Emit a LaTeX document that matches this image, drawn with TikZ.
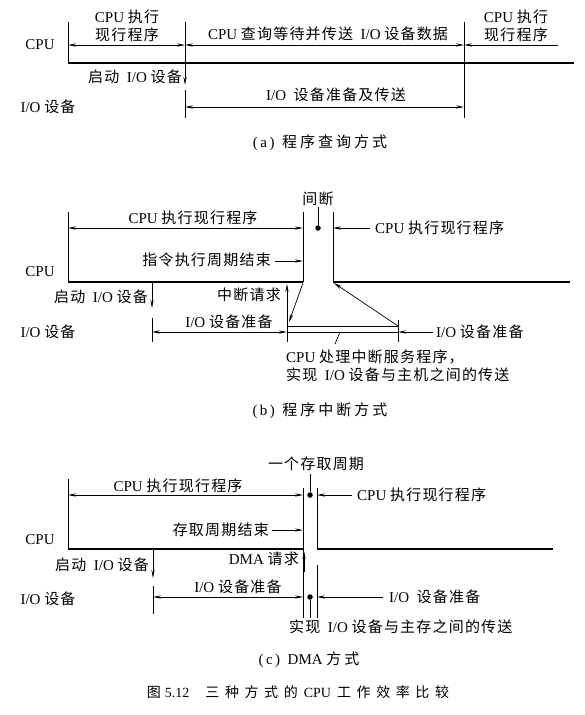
\documentclass[tikz,border=0pt]{standalone}
\usepackage{fontspec}
\setmainfont{Liberation Serif}
\newfontfamily\cjk[LetterSpace=8]{Noto Sans CJK SC}
\newfontfamily\cjkm[LetterSpace=20]{Noto Sans CJK SC}
\newfontfamily\cjkw[LetterSpace=40]{Noto Sans CJK SC}
\newcommand\zh[1]{{\cjk #1}}
\newcommand\zhm[1]{{\cjkm #1}}
\newcommand\zhw[1]{{\cjkw #1}}
\usetikzlibrary{arrows.meta}
\tikzset{
  ln/.style={line width=0.7pt},
  bl/.style={line width=1.4pt},
  ar/.style={ln,-{Stealth[length=8pt,width=3.2pt]}},
  dar/.style={ln,{Stealth[length=8pt,width=3.2pt]}-{Stealth[length=8pt,width=3.2pt]}},
  tx/.style={inner sep=0pt,font=\fontsize{15}{18}\selectfont},
  ctx/.style={inner sep=0pt,font=\fontsize{14}{18}\selectfont},
  dotn/.style={circle,fill,inner sep=0pt,minimum size=5.5pt}
}
\begin{document}
\begin{tikzpicture}[x=1pt,y=-1pt]
\useasboundingbox (0,0) rectangle (585,715);
% ================= (a) =================
\coordinate (a1) at (68,22);
\coordinate (a2) at (68,63);
\coordinate (a3) at (574,63);
\coordinate (b1) at (185,22);
\coordinate (bk) at (185,85);
\coordinate (bk2) at (185,90);
\coordinate (b2) at (185,118);
\coordinate (c1) at (464,22);
\coordinate (c2) at (464,118);
\coordinate (ya) at (0,45);
\coordinate (yb) at (0,107);
\coordinate (arr) at (558,45);
\draw[ln] (a1) -- (a2);
\draw[bl] (a2) -- (a3);
\draw[ln] (b1) -- (b1|-a2);
\draw[ar] (b1|-a2) -- (bk);
\draw[ln] (bk2) -- (b2);
\draw[ln] (c1) -- (c2);
\draw[dar] (a1|-ya) -- (b1|-ya);
\draw[dar] (b1|-ya) -- (c1|-ya);
\draw[ar] (arr) -- (c1|-ya);
\draw[dar] (b1|-yb) -- (c1|-yb);
\node[tx] (acpu) at (40,45) {CPU};
\node[tx] (aio) at (48,107) {I/O \zh{设备}};
\node[tx,align=center] (at1) at (127,26) {CPU \zh{执行}\\\zh{现行程序}};
\node[tx] (at2) at (328,34) {CPU \zh{查询等待并传送}\ \ I/O \zh{设备数据}};
\node[tx,align=center] (at3) at (516,26) {CPU \zh{执行}\\\zh{现行程序}};
\node[tx,anchor=east] (at4) at (182,77) {\zh{启动}\ \ I/O \zh{设备}};
\node[tx] (at5) at (336,95) {I/O\ \ \zh{设备准备及传送}};
\node[tx] (acap) at (320,143) {(\,a\,)\ \ \zhm{程序查询方式}};
% ================= (b) =================
\coordinate (p1) at (68,212);
\coordinate (p2) at (68,282);
\coordinate (p3) at (303,282);
\coordinate (p4) at (303,212);
\coordinate (q1) at (333,212);
\coordinate (q2) at (333,282);
\coordinate (q3) at (570,282);
\coordinate (yc) at (0,228);
\coordinate (g1) at (318,207);
\coordinate (r1) at (370,228);
\coordinate (s1) at (275,261);
\coordinate (t1) at (152,282);
\coordinate (t2) at (152,308);
\coordinate (t3) at (152,318);
\coordinate (t4) at (152,342);
\coordinate (yi) at (0,332);
\coordinate (u1) at (287,342);
\coordinate (u2) at (287,284);
\coordinate (v0) at (303,283);
\coordinate (v1) at (289,322);
\coordinate (w1) at (287,326);
\coordinate (w2) at (398,326);
\coordinate (w4) at (398,320);
\coordinate (w5) at (398,342);
\coordinate (z1) at (334,283);
\coordinate (x1) at (433,332);
\coordinate (l1) at (340,332);
\coordinate (l2) at (335,344);
\draw[ln] (p1) -- (p2);
\draw[bl] (p2) -- (p3);
\draw[ln] (p3) -- (p4);
\draw[ln] (q1) -- (q2);
\draw[bl] (q2) -- (q3);
\draw[dar] (p1|-yc) -- (p4|-yc);
\node[dotn] (gd) at (318,228) {};
\draw[ln] (g1) -- (gd);
\draw[ar] (r1) -- (q1|-yc);
\draw[ar] (s1) -- (p4|-s1);
\draw[ar] (t1) -- (t2);
\draw[ln] (t3) -- (t4);
\draw[dar] (t3|-yi) -- (u1|-yi);
\draw[ln] (u1|-yi) -- (w4|-yi);
\draw[ar] (u1) -- (u2);
\draw[ar] (v0) -- (v1);
\draw[ln] (w1) -- (w2);
\draw[ln] (w4) -- (w5);
\draw[ar] (w2) -- (z1);
\draw[ar] (x1) -- (w4|-yi);
\draw[ln] (l1) -- (l2);
\node[tx] (bcpu) at (40,272) {CPU};
\node[tx] (bio) at (48,332) {I/O \zh{设备}};
\node[tx] (bt1) at (193,218) {CPU \zh{执行现行程序}};
\node[tx] (bt2) at (318,199) {\zh{间断}};
\node[tx,anchor=west] (bt3) at (375,228) {CPU \zh{执行现行程序}};
\node[tx,anchor=east] (bt4) at (271,260) {\zh{指令执行周期结束}};
\node[tx,anchor=east] (bt5) at (148,297) {\zh{启动}\ \ I/O \zh{设备}};
\node[tx,anchor=east] (bt6) at (281,295) {\zh{中断请求}};
\node[tx] (bt7) at (229,322) {I/O \zh{设备准备}};
\node[tx,anchor=west] (bt8) at (436,332) {I/O \zh{设备准备}};
\node[tx,anchor=north west,align=left] (bt9) at (286,350) {CPU \zh{处理中断服务程序}\zh{，}\\\zh{实现}\ \ I/O \zh{设备与主机之间的传送}};
\node[tx] (bcap) at (320,411) {(\,b\,)\ \ \zhm{程序中断方式}};
% ================= (c) =================
\coordinate (k1) at (68,479);
\coordinate (k2) at (68,549);
\coordinate (k3) at (303,549);
\coordinate (kL1) at (303,488);
\coordinate (kL2) at (303,618);
\coordinate (kR1) at (317,488);
\coordinate (kR2) at (317,549);
\coordinate (kR3) at (553,549);
\coordinate (kR4) at (317,565);
\coordinate (kR5) at (317,618);
\coordinate (km1) at (310,474);
\coordinate (km4) at (310,618);
\coordinate (yk1) at (0,495);
\coordinate (kr1) at (352,495);
\coordinate (ks1) at (272,530);
\coordinate (kt1) at (153,549);
\coordinate (kt2) at (153,578);
\coordinate (kt3) at (153,586);
\coordinate (kt4) at (153,614);
\coordinate (yk2) at (0,597);
\coordinate (kx1) at (383,597);
\coordinate (kd1) at (304,572);
\coordinate (kd2) at (304,551);
\draw[ln] (k1) -- (k2);
\draw[bl] (k2) -- (k3);
\draw[ln] (kL1) -- (kL2);
\draw[ln] (kR1) -- (kR2);
\draw[bl] (kR2) -- (kR3);
\draw[ln] (kR4) -- (kR5);
\node[dotn] (kmd1) at (310,495) {};
\node[dotn] (kmd2) at (310,597) {};
\draw[ln] (km1) -- (kmd1);
\draw[ln] (kmd2) -- (km4);
\draw[dar] (k1|-yk1) -- (kL1|-yk1);
\draw[ar] (kr1) -- (kR1|-yk1);
\draw[ar] (ks1) -- (kL1|-ks1);
\draw[ar] (kt1) -- (kt2);
\draw[ln] (kt3) -- (kt4);
\draw[dar] (kt3|-yk2) -- (kL1|-yk2);
\draw[ar] (kx1) -- (kR1|-yk2);
\draw[ar] (kd1) -- (kd2);
\node[tx] (ccpu) at (40,540) {CPU};
\node[tx] (cio) at (48,599) {I/O \zh{设备}};
\node[tx] (ct0) at (316,464) {\zh{一个存取周期}};
\node[tx] (ct1) at (178,486) {CPU \zh{执行现行程序}};
\node[tx,anchor=west] (ct2) at (357,495) {CPU \zh{执行现行程序}};
\node[tx,anchor=east] (ct3) at (269,530) {\zh{存取周期结束}};
\node[tx,anchor=east] (ct4) at (149,565) {\zh{启动}\ \ I/O \zh{设备}};
\node[tx,anchor=east] (ct5) at (299,559) {DMA \zh{请求}};
\node[tx] (ct6) at (238,587) {I/O \zh{设备准备}};
\node[tx,anchor=west] (ct7) at (389,597) {I/O\ \ \zh{设备准备}};
\node[tx,anchor=west] (ct8) at (289,627) {\zh{实现}\ \ I/O \zh{设备与主存之间的传送}};
\node[tx] (ccap) at (309,660) {(\,c\,)\ \ DMA \zhm{方式}};
\node[ctx] (fig) at (298,692) {\zhw{图}\hspace*{4pt}5.12\hspace*{16pt}\zhw{三种方式的}\hspace*{6pt}CPU\hspace*{6pt}\zhw{工作效率比较}};
\end{tikzpicture}
\end{document}
